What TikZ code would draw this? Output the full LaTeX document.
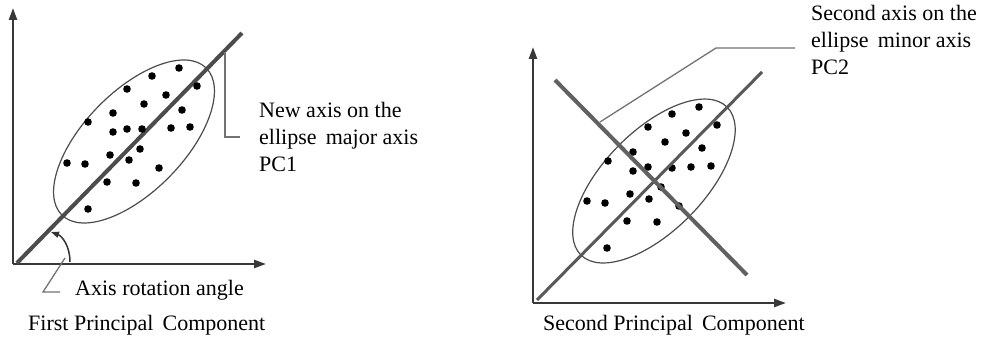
\documentclass[tikz,border=0pt]{standalone}
\usepackage{fontspec}
\setmainfont{Liberation Serif}
\usetikzlibrary{arrows.meta}
\begin{document}
\begin{tikzpicture}[x=1pt,y=-1pt,
  axisline/.style={draw=black!78,line width=2.4pt,-{Triangle[length=12pt,width=8pt]}},
  pcline/.style={draw=black!65,line width=4pt},
  ell/.style={draw=black!70,line width=1.2pt},
  callout/.style={draw=black!55,line width=1.3pt},
  dot/.style={fill=black,draw=none},
  lbl/.style={font=\fontsize{22}{27}\selectfont,inner sep=0pt,align=left}]
\useasboundingbox (0,0) rectangle (988,339);
\fill[white] (0,0) rectangle (988,339);

% ---------- left diagram ----------
\coordinate (LO) at (13,264);
\coordinate (LYt) at (13,8);
\coordinate (LXt) at (266,264);
\draw[axisline] (LO) -- (LYt);
\draw[axisline] (LO) -- (LXt);
\coordinate (LC) at (134,141.5);
\draw[ell,rotate around={45.6:(LC)}] (LC) ellipse [x radius=103, y radius=50];
\coordinate (L1a) at (17,263);
\coordinate (L1b) at (242,33);
\draw[pcline,draw=black!70] (L1a) -- (L1b);
\foreach \p in {(152,76),(179,68),(127,89),(166,95),(197,86),(144,104),(113,113),(182,110),(88,122),(113,132),(127,129),(142,129),(171,128),(190,127),(140,149),(110,155),(129,160),(67,163),(85,164),(159,168),(107,182),(136,183),(88,209)}
  \fill[dot] \p circle (3.8);
% angle arc
\coordinate (Aa) at (70,262);
\coordinate (Ab) at (51,232);
\draw[black!80,line width=1.5pt,-{Triangle[length=8pt,width=6pt]}] (Aa) .. controls (70,246) and (62,236) .. (Ab);
% callouts left
\coordinate (C1a) at (225,52);
\coordinate (C1b) at (225,137);
\coordinate (C1c) at (240,137);
\draw[callout] (C1a) -- (C1b) -- (C1c);
\coordinate (C2a) at (65,258);
\coordinate (C2b) at (43,292);
\coordinate (C2c) at (60,292);
\draw[callout] (C2a) -- (C2b) -- (C2c);
\node[lbl,anchor=west] (t1) at (259,137) {New axis on the\\ellipse\, major axis\\PC1};
\node[lbl,anchor=west] (t2) at (75,290) {Axis rotation angle};
\node[lbl,anchor=west] (t3) at (28,325) {First Principal\, Component};

% ---------- right diagram ----------
\coordinate (RO) at (533,303);
\coordinate (RYt) at (533,47);
\coordinate (RXt) at (786,303);
\draw[axisline] (RO) -- (RYt);
\draw[axisline] (RO) -- (RXt);
\coordinate (RC) at (654,181);
\draw[ell,rotate around={45.4:(RC)}] (RC) ellipse [x radius=104, y radius=50];
\foreach \p in {(699,107),(672,114),(717,125),(648,127),(686,133),(665,142),(633,152),(702,148),(608,161),(633,171),(648,167),(672,168),(691,167),(711,166),(661,187),(630,194),(649,199),(587,201),(605,203),(679,206),(627,221),(657,222),(607,248)}
  \fill[dot] \p circle (3.8);
\coordinate (R1a) at (537,300);
\coordinate (R1b) at (762,72);
\draw[pcline,line width=3pt] (R1a) -- (R1b);
\coordinate (R2a) at (555,80);
\coordinate (R2b) at (747,275);
\draw[pcline,draw=black!62] (R2a) -- (R2b);
\coordinate (C3a) at (600,122);
\coordinate (C3b) at (716,48);
\coordinate (C3c) at (795,48);
\draw[callout] (C3a) -- (C3b) -- (C3c);
\node[lbl,anchor=west] (t4) at (811,40) {Second axis on the\\ellipse\, minor axis\\PC2};
\node[lbl,anchor=west] (t5) at (543,325) {Second Principal\, Component};
\end{tikzpicture}
\end{document}
